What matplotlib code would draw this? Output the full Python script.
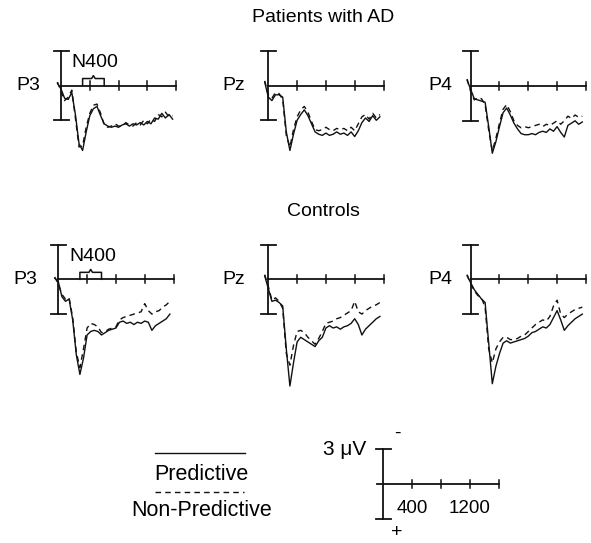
import numpy as np
import matplotlib
matplotlib.use('Agg')
import matplotlib.pyplot as plt

plt.rcParams['font.family'] = ['Liberation Sans', 'DejaVu Sans']

# time base (ms) and ERP amplitudes (uV, positive plotted downward)
times = np.arange(-50, 1551, 50)

ad_p3_pred = [-0.2, 0.3, 1.1, 1.2, 0.6, 2.5, 5.0, 5.6, 4.0, 2.6, 2.0, 1.8, 2.6, 3.3, 3.5, 3.6, 3.5,
              3.6, 3.4, 3.3, 3.5, 3.3, 3.4, 3.2, 3.4, 3.1, 3.3, 2.8, 2.9, 2.4, 2.8, 2.5, 2.9]
ad_p3_nonpred = [-0.3, 0.5, 1.3, 1.0, 0.4, 2.8, 5.3, 5.2, 3.6, 2.4, 1.7, 1.6, 2.4, 3.4, 3.6, 3.5, 3.3,
                 3.5, 3.5, 3.2, 3.4, 3.5, 3.2, 3.4, 3.0, 3.3, 2.9, 3.1, 2.5, 2.7, 2.3, 2.7, 2.6]
ad_pz_pred = [-0.3, 1.0, 1.3, 0.8, 0.8, 1.0, 4.0, 5.6, 4.2, 3.0, 2.5, 2.1, 2.6, 3.3, 4.0, 4.2, 4.3,
              4.1, 4.3, 4.2, 4.0, 4.2, 4.1, 4.3, 4.0, 4.4, 3.9, 3.2, 2.8, 3.1, 2.6, 3.0, 2.7]
ad_pz_nonpred = [-0.4, 0.8, 1.1, 0.6, 0.7, 1.2, 4.3, 5.3, 3.8, 2.7, 2.1, 1.8, 2.3, 3.1, 3.8, 3.9, 3.8,
                 3.6, 3.8, 3.9, 3.7, 3.8, 3.7, 3.9, 3.6, 3.9, 3.3, 2.7, 2.5, 2.9, 2.4, 2.8, 2.5]
ad_p4_pred = [-0.5, 0.3, 1.1, 1.2, 1.3, 1.4, 3.5, 5.8, 4.8, 3.5, 2.3, 1.9, 2.5, 3.2, 3.7, 4.1, 4.2,
              4.2, 4.1, 4.2, 4.0, 3.9, 4.0, 3.7, 3.9, 3.5, 4.0, 4.4, 3.4, 3.2, 3.0, 3.3, 3.1]
ad_p4_nonpred = [-0.6, 0.5, 1.2, 1.0, 1.1, 1.6, 3.8, 5.6, 4.5, 3.2, 2.0, 1.6, 2.2, 3.0, 3.4, 3.6, 3.5,
                 3.6, 3.5, 3.4, 3.3, 3.5, 3.3, 3.4, 3.2, 3.0, 3.3, 3.0, 2.6, 2.8, 2.5, 2.7, 2.6]

ct_p3_pred = [-0.1, 0.2, 1.5, 1.9, 1.7, 3.5, 6.5, 8.2, 6.8, 4.8, 4.5, 4.4, 4.5, 4.8, 4.6, 4.4, 4.3,
              4.2, 3.7, 3.6, 3.8, 3.7, 3.9, 3.7, 3.8, 3.6, 3.7, 4.4, 4.0, 3.8, 3.6, 3.4, 3.0]
ct_p3_nonpred = [-0.2, 0.4, 1.3, 1.7, 1.6, 3.3, 6.3, 7.6, 6.0, 4.2, 3.8, 3.9, 4.1, 4.6, 4.5, 4.3, 4.2,
                 4.1, 3.5, 3.3, 3.2, 3.1, 3.0, 2.9, 2.8, 2.1, 2.7, 3.0, 2.8, 2.7, 2.4, 2.2, 1.9]
ct_pz_pred = [-0.3, 0.8, 1.9, 1.8, 2.0, 2.3, 6.0, 9.2, 7.2, 5.4, 5.0, 5.2, 5.4, 5.6, 5.8, 5.3, 5.0,
              4.2, 4.0, 4.2, 4.1, 4.3, 4.1, 4.0, 3.8, 3.4, 3.9, 4.8, 4.3, 4.0, 3.7, 3.4, 3.2]
ct_pz_nonpred = [-0.4, 0.6, 1.8, 1.6, 1.9, 2.5, 6.4, 7.4, 5.7, 4.5, 4.4, 4.6, 5.0, 5.3, 5.6, 5.1, 4.5,
                 3.8, 3.7, 3.6, 3.4, 3.3, 3.1, 2.9, 2.7, 1.9, 2.8, 3.0, 2.7, 2.5, 2.3, 2.2, 2.0]
ct_p4_pred = [-0.3, 0.3, 0.9, 1.3, 1.7, 2.0, 5.5, 9.0, 7.5, 6.4, 5.5, 5.3, 5.5, 5.4, 5.3, 5.2, 5.1,
              4.9, 4.6, 4.5, 4.3, 4.1, 4.2, 3.9, 3.3, 2.7, 3.5, 4.4, 4.0, 3.7, 3.4, 3.2, 3.0]
ct_p4_nonpred = [-0.4, 0.4, 1.0, 1.4, 1.6, 2.4, 6.0, 7.2, 6.0, 5.4, 5.0, 5.0, 5.2, 5.2, 5.1, 4.9, 4.8,
                 4.5, 4.2, 3.9, 3.7, 3.5, 3.6, 3.2, 2.3, 1.8, 3.0, 3.3, 3.0, 2.8, 2.6, 2.5, 2.4]

electrodes = ['P3', 'Pz', 'P4']
x_ticks = [400, 800, 1200, 1600]
scale_uv = 3
n400_win = (300, 600)

W, H = 591, 543
PX_MS = 0.072     # pixels per ms
PX_UV = 11.6      # pixels per uV
XLIM = (-200, 1700)
YLIM = (10, -4)   # inverted: negative up

fig = plt.figure(figsize=(W / 100, H / 100), dpi=100)
col = '#111111'
dash = (0, (4, 3))


def make_ax(ox, oy):
    left = ox + XLIM[0] * PX_MS
    width = (XLIM[1] - XLIM[0]) * PX_MS
    top = oy + YLIM[1] * PX_UV
    height = (YLIM[0] - YLIM[1]) * PX_UV
    ax = fig.add_axes([left / W, 1 - (top + height) / H, width / W, height / H])
    ax.set_xlim(*XLIM)
    ax.set_ylim(*YLIM)
    ax.axis('off')
    return ax


def draw_axes(ax, x0=0):
    cap = 7.5 / PX_MS
    ax.plot([0, 0], [-scale_uv, scale_uv], color=col, lw=1.3)
    ax.plot([-cap, cap], [-scale_uv, -scale_uv], color=col, lw=1.3)
    ax.plot([-cap, cap], [scale_uv, scale_uv], color=col, lw=1.3)
    ax.plot([x0, x_ticks[-1]], [0, 0], color=col, lw=1.3)
    for t in x_ticks:
        ax.plot([t, t], [-0.35, 0.35], color=col, lw=1.1)


def draw_n400(ax):
    a, b = n400_win
    m = (a + b) / 2
    ax.plot([a, a, m - 25, m, m + 25, b, b], [0, -0.6, -0.6, -0.85, -0.6, -0.6, 0],
            color=col, lw=1.1)
    ax.text(m + 25, -2.0, 'N400', ha='center', va='center', fontsize=14)


rows = [
    ([ad_p3_pred, ad_pz_pred, ad_p4_pred], [ad_p3_nonpred, ad_pz_nonpred, ad_p4_nonpred],
     [(61, 85.5), (268.3, 85.5), (470.7, 86)]),
    ([ct_p3_pred, ct_pz_pred, ct_p4_pred], [ct_p3_nonpred, ct_pz_nonpred, ct_p4_nonpred],
     [(58.3, 279.3), (268.3, 279.3), (470.7, 279.3)]),
]
label_gap = [21, 23, 18]

for preds, nonpreds, origins in rows:
    for i, (ox, oy) in enumerate(origins):
        ax = make_ax(ox, oy)
        draw_axes(ax)
        ax.plot(times, preds[i], color=col, lw=1.0)
        ax.plot(times, nonpreds[i], color=col, lw=1.0, ls=dash)
        ax.text(-label_gap[i] / PX_MS, 0, electrodes[i], ha='right', va='center',
                fontsize=14, clip_on=False)
        if i == 0:
            draw_n400(ax)

# scale key
key = make_ax(383.3, 484)
draw_axes(key, x0=-90)
key.text(-17 / PX_MS, -scale_uv, '3 \u03bcV', ha='right', va='center', fontsize=15)
key.text(190, -4.4, '-', ha='center', va='center', fontsize=14, clip_on=False)
key.text(190, 4.15, '+', ha='center', va='center', fontsize=14, clip_on=False)
key.text(400, 2.1, '400', ha='center', va='center', fontsize=13.5)
key.text(1200, 2.1, '1200', ha='center', va='center', fontsize=13.5)

# overlay in pixel coordinates for titles and legend
ov = fig.add_axes([0, 0, 1, 1])
ov.set_xlim(0, W)
ov.set_ylim(H, 0)
ov.axis('off')
ov.text(323, 18, 'Patients with AD', ha='center', va='center', fontsize=14)
ov.text(323, 212, 'Controls', ha='center', va='center', fontsize=14)
ov.plot([155, 245], [453.3, 453.3], color=col, lw=1.0)
ov.text(201, 474, 'Predictive', ha='center', va='center', fontsize=15.5)
ov.plot([155, 244], [491.7, 491.7], color=col, lw=1.0, ls=dash)
ov.text(202, 510, 'Non-Predictive', ha='center', va='center', fontsize=15.5)

fig.savefig('out.png', dpi=100, facecolor='white')
